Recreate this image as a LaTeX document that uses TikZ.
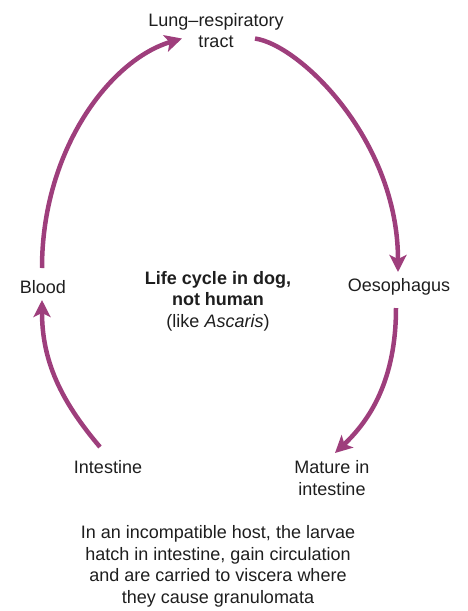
\documentclass[tikz,border=0pt]{standalone}
\usepackage{fontspec}
\setmainfont{Liberation Sans}
\usetikzlibrary{arrows.meta}
\definecolor{arrowpurple}{RGB}{158,62,124}
\definecolor{textgrey}{RGB}{30,30,30}
\begin{document}
\begin{tikzpicture}[x=1pt,y=-1pt,
  lbl/.style={align=center, text=textgrey, font=\fontsize{18}{21.5}\selectfont, inner sep=0pt},
  cyc/.style={draw=arrowpurple, line width=4.5pt, -{Stealth[length=17pt,width=17pt,inset=4pt]}}]
\useasboundingbox (0,0) rectangle (468,611);
\node[lbl] (lung) at (216,30.5) {Lung--respiratory\\tract};
\node[lbl] (blood) at (43,287) {Blood};
\node[lbl] (oeso) at (399,287) {Oesophagus};
\node[lbl] (centre) at (218,301) {\textbf{Life cycle in dog,}\\\textbf{not human}\\(like \textit{Ascaris})};
\node[lbl] (intestine) at (108,467) {Intestine};
\node[lbl] (mature) at (332,478) {Mature in\\intestine};
\node[lbl] (note) at (218,566.5) {In an incompatible host, the larvae\\hatch in intestine, gain circulation\\and are carried to viscera where\\they cause granulomata};
\draw[cyc] ([shift={(-1,-19)}]blood.center) .. controls (42,150) and (110,60) .. ([shift={(-34,8)}]lung.center);
\draw[cyc] ([shift={(39,8)}]lung.center) .. controls (300,45) and (398,140) .. ([shift={(-1,-15)}]oeso.center);
\draw[cyc] ([shift={(-3,21)}]oeso.center) .. controls (396,380) and (370,420) .. ([shift={(3,-25)}]mature.center);
\draw[cyc] ([shift={(-8,-20)}]intestine.center) .. controls (60,400) and (42,360) .. ([shift={(-1,13)}]blood.center);
\end{tikzpicture}
\end{document}
